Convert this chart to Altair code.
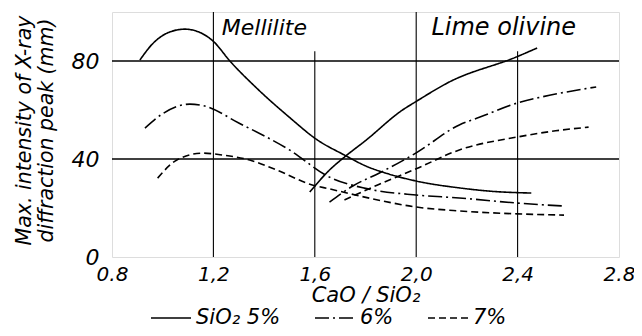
import altair as alt
import pandas as pd

FONT = "DejaVu Sans"

# --- curve data (CaO/SiO2 ratio vs. max intensity, mm) ---
m5_x = [0.91, 0.96, 1.02, 1.087, 1.15, 1.2, 1.265, 1.37, 1.50, 1.607, 1.717, 1.80, 1.894, 2.0, 2.17, 2.30, 2.454]
m5_y = [80.4, 87.0, 91.5, 93.0, 91.5, 88.0, 80.0, 69.0, 57.0, 48.0, 41.6, 37.2, 33.8, 31.0, 28.2, 26.8, 26.1]

m6_x = [0.93, 1.0, 1.107, 1.166, 1.30, 1.50, 1.658, 1.80, 2.0, 2.17, 2.4, 2.583]
m6_y = [52.6, 58.5, 62.4, 61.6, 54.7, 43.7, 32.6, 28.0, 25.3, 24.1, 22.0, 20.8]

m7_x = [0.98, 1.056, 1.158, 1.237, 1.343, 1.45, 1.59, 1.658, 1.816, 2.0, 2.17, 2.4, 2.583]
m7_y = [32.2, 39.6, 42.4, 41.6, 39.6, 35.5, 29.4, 27.8, 24.0, 20.4, 18.8, 17.6, 17.1]

o5_x = [1.58, 1.658, 1.717, 1.80, 1.946, 2.0, 2.13, 2.394, 2.477]
o5_y = [26.5, 35.5, 40.8, 47.5, 60.0, 63.5, 71.4, 81.6, 85.3]

o6_x = [1.658, 1.75, 1.855, 2.0, 2.17, 2.249, 2.4, 2.55, 2.71]
o6_y = [22.4, 29.0, 34.3, 42.5, 53.9, 57.0, 62.9, 66.5, 69.4]

o7_x = [1.717, 1.85, 2.0, 2.17, 2.4, 2.55, 2.68]
o7_y = [23.3, 29.5, 36.0, 43.7, 49.0, 51.5, 53.0]

series_labels = ["SiO\u2082 5%", "6%", "7%"]
dash_styles = [[1, 0], [14, 4, 2, 4], [7, 4]]

x_ticks = [0.8, 1.2, 1.6, 2.0, 2.4, 2.8]
y_ticks = [0, 40, 80]

grid_x = [1.2, 1.6, 2.0, 2.4]
grid_x_top = [100, 84, 100, 84]
grid_y = [40, 80]

mell_name = ["Mellilite"]
mell_x = [1.233]
mell_y = [90.5]
lime_name = ["Lime  olivine"]
lime_x = [2.06]
lime_y = [90.5]

rows = []
for lab, phase, xs, ys in [
    (series_labels[0], "M", m5_x, m5_y),
    (series_labels[1], "M", m6_x, m6_y),
    (series_labels[2], "M", m7_x, m7_y),
    (series_labels[0], "O", o5_x, o5_y),
    (series_labels[1], "O", o6_x, o6_y),
    (series_labels[2], "O", o7_x, o7_y),
]:
    for xv, yv in zip(xs, ys):
        rows.append({"series": lab, "phase": phase, "ratio": xv, "peak": yv})
df = pd.DataFrame(rows)

vgrid = pd.DataFrame({"x": grid_x, "y0": [0] * len(grid_x), "y1": grid_x_top})
hgrid = pd.DataFrame({"y": grid_y, "x0": [0.8] * len(grid_y), "x1": [2.8] * len(grid_y)})
ann_m = pd.DataFrame({"x": mell_x, "y": mell_y, "t": mell_name})
ann_l = pd.DataFrame({"x": lime_x, "y": lime_y, "t": lime_name})

xscale = alt.Scale(domain=[0.8, 2.8], nice=False, zero=False)
yscale = alt.Scale(domain=[0, 100], nice=False)

label_expr = ("datum.value == 0.8 ? '0.8' : datum.value == 2.8 ? '2.8' : "
              "replace(format(datum.value, '.1f'), '.', ',')")

xaxis = alt.Axis(values=x_ticks, title="CaO / SiO\u2082", labelExpr=label_expr,
                 grid=False, ticks=False, domain=False, labelFontSize=20,
                 labelFont=FONT, labelFontStyle="italic", labelColor="black",
                 labelPadding=7, labelAngle=0, labelFlush=False,
                 titleFont=FONT, titleFontSize=21, titleFontStyle="italic",
                 titleFontWeight="normal", titleColor="black",
                 titleY=38, titleBaseline="middle")
yaxis = alt.Axis(values=y_ticks, title=["Max. intensity of X-ray", "diffraction peak (mm)"],
                 grid=False, ticks=False, domain=False, labelFontSize=22,
                 labelFont=FONT, labelFontStyle="italic", labelColor="black",
                 labelPadding=13, labelFlush=False,
                 titleFont=FONT, titleFontSize=20.5, titleFontStyle="italic",
                 titleFontWeight="normal", titleColor="black",
                 titleX=-78, titleY=118, titleBaseline="bottom", titleLineHeight=22)

lines = alt.Chart(df).mark_line(color="black", strokeWidth=1.6, interpolate="monotone").encode(
    x=alt.X("ratio:Q", scale=xscale, axis=xaxis),
    y=alt.Y("peak:Q", scale=yscale, axis=yaxis),
    strokeDash=alt.StrokeDash(
        "series:N",
        scale=alt.Scale(domain=series_labels, range=dash_styles),
        legend=alt.Legend(title=None, orient="none", legendX=38, legendY=285,
                          direction="horizontal", symbolType="stroke",
                          symbolSize=1600, symbolStrokeWidth=1.6,
                          symbolStrokeColor="black", labelFontSize=21,
                          labelFont=FONT, labelFontStyle="italic",
                          labelColor="black", columnPadding=30, labelOffset=4,
                          padding=0, labelLimit=200),
    ),
    detail="phase:N",
)

vrules = alt.Chart(vgrid).mark_rule(color="black", strokeWidth=1.1).encode(
    x=alt.X("x:Q", scale=xscale), y=alt.Y("y0:Q", scale=yscale), y2="y1:Q")
hrules = alt.Chart(hgrid).mark_rule(color="black", strokeWidth=1.3).encode(
    y=alt.Y("y:Q", scale=yscale), x=alt.X("x0:Q", scale=xscale), x2="x1:Q")

text_m = alt.Chart(ann_m).mark_text(align="left", baseline="alphabetic", font=FONT,
                                    fontSize=22, fontStyle="italic", color="black").encode(
    x=alt.X("x:Q", scale=xscale), y=alt.Y("y:Q", scale=yscale), text="t:N")
text_l = alt.Chart(ann_l).mark_text(align="left", baseline="alphabetic", font=FONT,
                                    fontSize=24, fontStyle="italic", color="black").encode(
    x=alt.X("x:Q", scale=xscale), y=alt.Y("y:Q", scale=yscale), text="t:N")

chart = alt.layer(vrules, hrules, lines, text_m, text_l).properties(
    width=507, height=245,
    autosize=alt.AutoSizeParams(type="none"),
    padding={"left": 104, "top": 4, "right": 15, "bottom": 71},
).configure_view(stroke="black", strokeWidth=1.5).configure(background="white")

chart.save("out.html", embed_options={"renderer": "svg", "actions": False})
